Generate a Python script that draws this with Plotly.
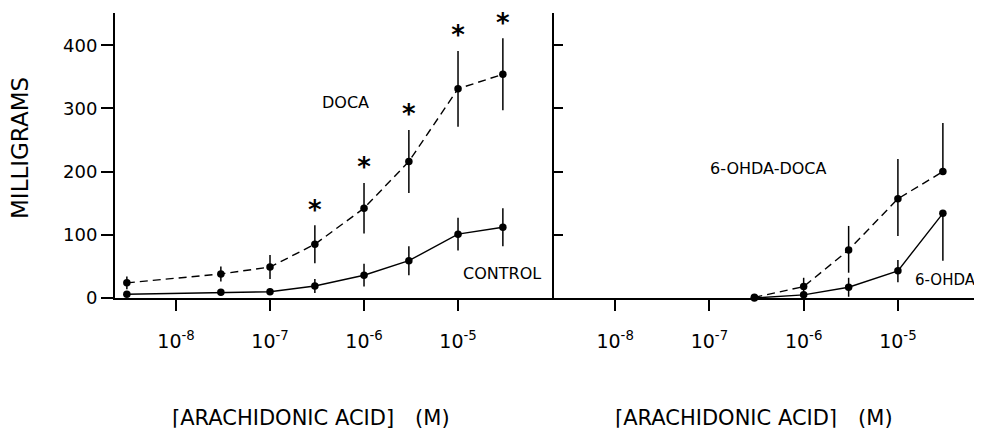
import plotly.graph_objects as go

# ---------------- data ----------------
conc_left = [3e-9, 3e-8, 1e-7, 3e-7, 1e-6, 3e-6, 1e-5, 3e-5]
doca_mean = [24, 38, 49, 85, 142, 216, 331, 354]
doca_err = [10, 12, 19, 30, 40, 50, 60, 57]
control_mean = [6, 9, 10, 19, 36, 59, 101, 112]
control_err = [3, 5, 4, 11, 18, 23, 26, 30]
significant = [False, False, False, True, True, True, True, True]

conc_right = [3e-7, 1e-6, 3e-6, 1e-5, 3e-5]
ohda_doca_mean = [1, 18, 76, 157, 200]
ohda_doca_err_up = [0, 14, 38, 63, 77]
ohda_doca_err_down = [0, 14, 36, 59, 0]
ohda_mean = [0, 5, 17, 43, 134]
ohda_err_up = [0, 0, 15, 17, 0]
ohda_err_down = [0, 0, 15, 18, 75]

y_ticks = [0, 100, 200, 300, 400]
x_tickvals = [1e-8, 1e-7, 1e-6, 1e-5]
x_ticktext = ["10<sup>-8</sup>", "10<sup>-7</sup>", "10<sup>-6</sup>", "10<sup>-5</sup>"]

# ---------------- figure ----------------
FONT = "DejaVu Sans"
# page body has an 8px margin, so the figure is drawn 8px smaller
W, H = 974, 422
ml, mr, mt, mb = 107, 2, 5, 132
PW = W - ml - mr
PH = H - mt - mb
split = (546 - ml) / PW

fig = go.Figure()

def err(arr, arrm=None):
    d = dict(type="data", array=arr, color="black", thickness=1.5, width=0, visible=True)
    if arrm is not None:
        d["symmetric"] = False
        d["arrayminus"] = arrm
    return d

marker = dict(color="black", size=7.5)

fig.add_trace(go.Scatter(x=conc_left, y=doca_mean, mode="lines+markers",
                         line=dict(color="black", width=1.4, dash="8px,5px"),
                         marker=marker, error_y=err(doca_err), cliponaxis=False,
                         xaxis="x", yaxis="y", name="DOCA"))
fig.add_trace(go.Scatter(x=conc_left, y=control_mean, mode="lines+markers",
                         line=dict(color="black", width=1.4),
                         marker=marker, error_y=err(control_err), cliponaxis=False,
                         xaxis="x", yaxis="y", name="CONTROL"))
ast_x = [c for c, s in zip(conc_left, significant) if s]
ast_y = [m + e for m, e, s in zip(doca_mean, doca_err, significant) if s]
fig.add_trace(go.Scatter(x=ast_x, y=ast_y, mode="text", text=["*"] * len(ast_x),
                         textposition="top center", cliponaxis=False,
                         textfont=dict(family=FONT, size=26, color="black", weight="bold"),
                         xaxis="x", yaxis="y", hoverinfo="skip"))

fig.add_trace(go.Scatter(x=conc_right, y=ohda_doca_mean, mode="lines+markers",
                         line=dict(color="black", width=1.4, dash="8px,5px"),
                         marker=marker, error_y=err(ohda_doca_err_up, ohda_doca_err_down),
                         cliponaxis=False, xaxis="x2", yaxis="y2", name="6-OHDA-DOCA"))
fig.add_trace(go.Scatter(x=conc_right, y=ohda_mean, mode="lines+markers",
                         line=dict(color="black", width=1.4),
                         marker=marker, error_y=err(ohda_err_up, ohda_err_down),
                         cliponaxis=False, xaxis="x2", yaxis="y2", name="6-OHDA"))

yrange = [0, PH / 0.632]
xr_left = [-8.649, -3.979]
xr_right = [-8.649, -4.129]

common_x = dict(type="log", tickmode="array", tickvals=x_tickvals, ticktext=x_ticktext,
                ticks="outside", ticklen=11, tickwidth=1.5, tickcolor="black",
                showline=True, linewidth=2, linecolor="black", showgrid=False,
                zeroline=False, tickfont=dict(family=FONT, size=19, color="black"),
                ticklabelstandoff=14)

fig.update_layout(
    width=W, height=H, plot_bgcolor="white", paper_bgcolor="white",
    showlegend=False, margin=dict(l=ml, r=mr, t=mt, b=mb),
    xaxis=dict(domain=[0, split], range=xr_left, anchor="y", **common_x),
    xaxis2=dict(domain=[split, 1], range=xr_right, anchor="y2", **common_x),
    yaxis=dict(range=yrange, anchor="x", tickvals=y_ticks, ticks="outside", ticklen=12,
               tickwidth=1.5, tickcolor="black", showline=True, linewidth=2,
               linecolor="black", showgrid=False, zeroline=False,
               tickfont=dict(family=FONT, size=18, color="black")),
    yaxis2=dict(range=yrange, anchor="x2", tickvals=y_ticks[1:], ticks="inside",
                ticklen=9, tickwidth=1.5, tickcolor="black", showline=True,
                linewidth=2, linecolor="black", showgrid=False, zeroline=False,
                showticklabels=False),
)

lab_font = dict(family=FONT, size=16, color="black")
fig.add_annotation(x=-6.20, y=310, xref="x", yref="y", text="DOCA", showarrow=False, font=lab_font)
fig.add_annotation(x=-4.527, y=38, xref="x", yref="y", text="CONTROL", showarrow=False, font=lab_font)
fig.add_annotation(x=-6.378, y=205, xref="x2", yref="y2", text="6-OHDA-DOCA", showarrow=False, font=lab_font)
fig.add_annotation(x=-4.50, y=28.5, xref="x2", yref="y2", text="6-OHDA", showarrow=False,
                   font=dict(family=FONT, size=15, color="black"))

# pixel positions (reference image coords, minus the 8px page offset)
def px(x):
    return (x - 8 - ml) / PW

def py(y):
    return (mt + PH - (y - 8)) / PH

fig.add_annotation(x=px(20), y=py(148), xref="paper", yref="paper", xanchor="center",
                   yanchor="middle", text="MILLIGRAMS", textangle=-90, showarrow=False,
                   font=dict(family=FONT, size=23, color="black"))

title_font = dict(family=FONT, size=21, color="black")
fig.add_annotation(x=px(311), y=py(418), xref="paper", yref="paper", xanchor="center",
                   yanchor="middle", text="\u2308ARACHIDONIC ACID]\u2002\u2002(M)",
                   showarrow=False, font=title_font)
fig.add_annotation(x=px(754), y=py(418), xref="paper", yref="paper", xanchor="center",
                   yanchor="middle", text="\u2308ARACHIDONIC ACID\u2309\u2002\u2002(M)",
                   showarrow=False, font=title_font)

fig.write_html("out.html")
